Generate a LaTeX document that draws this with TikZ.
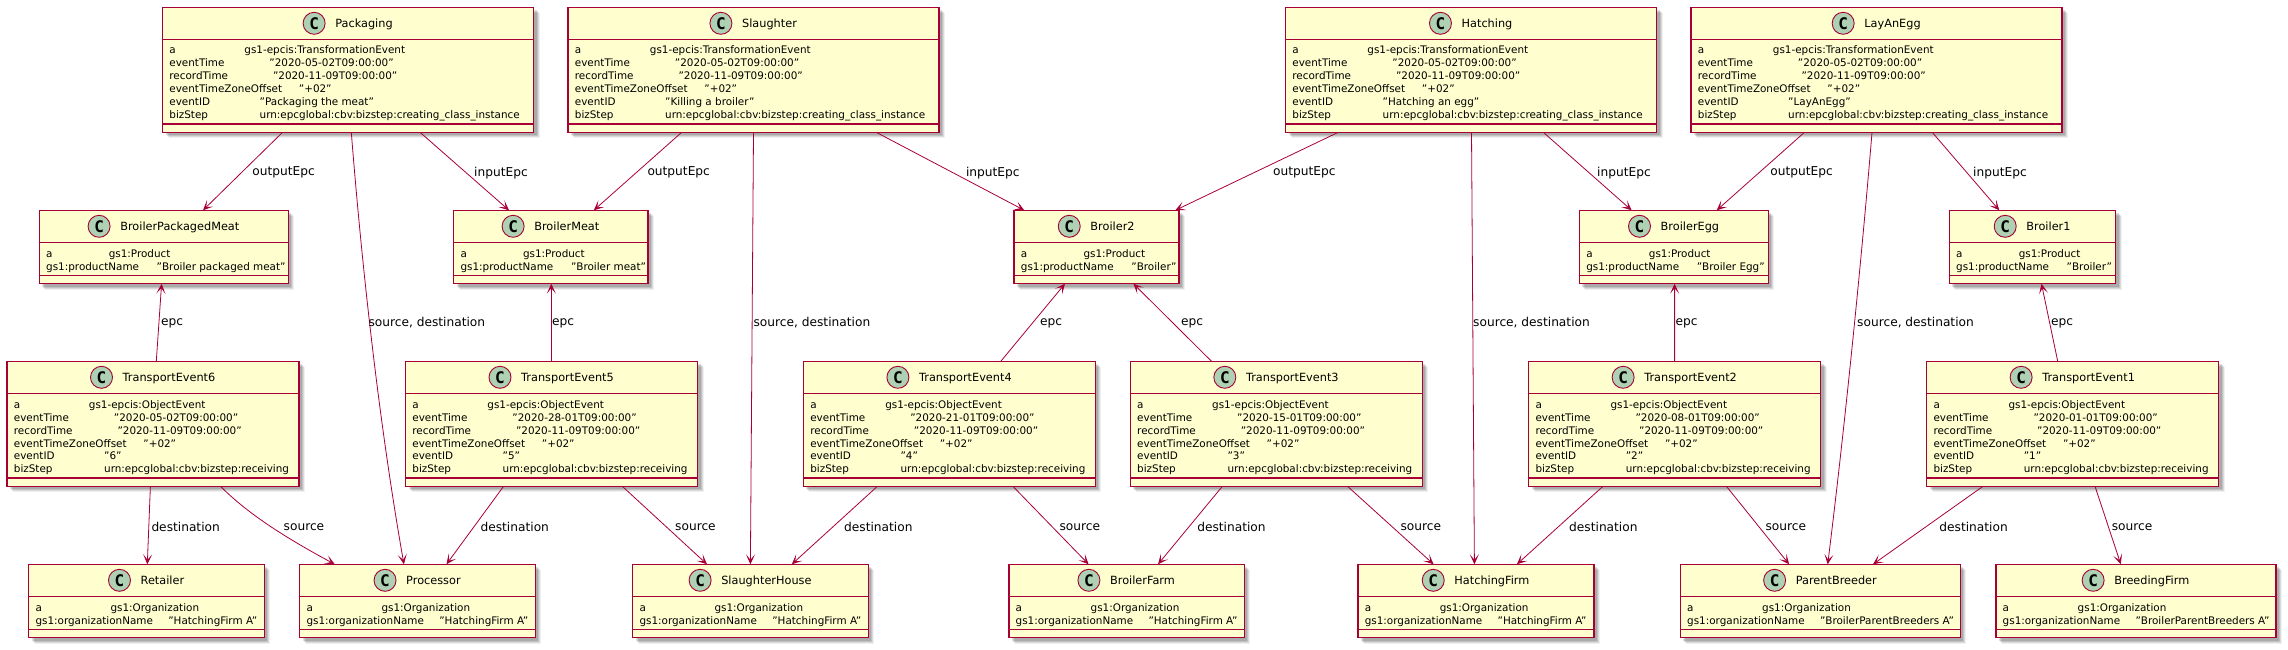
\documentclass[tikz,border=0pt]{standalone}
\usepackage{fontspec}
\setmainfont{DejaVu Sans}
\newfontfamily\markfont{DejaVu Sans Mono}
\usetikzlibrary{positioning,shadows,arrows.meta}
\definecolor{umlred}{HTML}{A80036}
\definecolor{umlyellow}{HTML}{FEFECE}
\definecolor{umlgreen}{HTML}{ADD1B2}
\tikzset{
	classbox/.style={draw=umlred, fill=umlyellow, line width=1.4pt, anchor=north west, inner sep=0pt, outer sep=0pt,
		drop shadow={shadow xshift=6pt, shadow yshift=-6pt, opacity=.06, fill=black},
		drop shadow={shadow xshift=5pt, shadow yshift=-5pt, opacity=.09, fill=black},
		drop shadow={shadow xshift=4pt, shadow yshift=-4pt, opacity=.11, fill=black},
		drop shadow={shadow xshift=3pt, shadow yshift=-3pt, opacity=.12, fill=black}},
	classline/.style={draw=umlred, line width=1.2pt},
	classtitle/.style={inner sep=0pt, text height=11pt, text depth=3pt, font=\fontsize{11.3}{13}\selectfont},
	classmark/.style={circle, draw=umlred, fill=umlgreen, line width=.9pt, inner sep=0pt, outer sep=0pt, minimum size=22pt, font=\markfont\bfseries\fontsize{16}{16}\selectfont},
	attrtext/.style={anchor=base west, inner sep=0pt, font=\fontsize{10.4}{12}\selectfont},
	rel/.style={draw=umlred, line width=.8pt, ->},
	rellabel/.style={anchor=west, inner sep=0pt, font=\fontsize{12.2}{14}\selectfont}
}
\begin{document}
\begin{tikzpicture}[x=1pt, y=-1pt, >={Stealth[length=10pt, width=9pt, inset=5.5pt]}]
	\useasboundingbox (0,0) rectangle (2288,650);
	\def\umlclass#1#2#3#4#5#6{
		\node[classbox, minimum width=#4pt, minimum height=#5pt] (#1) at (#2,#3) {};
		\draw[classline] ([yshift=-32pt]#1.north west) -- ([yshift=-32pt]#1.north east);
		\draw[classline] ([yshift=8.3pt]#1.south west) -- ([yshift=8.3pt]#1.south east);
		\node[classtitle] (#1-title) at ([xshift=16pt, yshift=-16pt]#1.north) {#6};
		\node[classmark, left=10pt of #1-title] (#1-mark) {C};
	}
	\def\attr#1#2#3#4#5{
		\node[attrtext] (#1-key#2) at ([xshift=6.7pt, yshift=-#2pt]#1.north west) {#3};
		\node[attrtext] (#1-val#2) at ([xshift=6.7pt+#4pt, yshift=-#2pt]#1.north west) {#5};
	}
	\def\eventrows#1#2#3#4#5{
		\attr{#1}{46.7}{a}{75}{#2}
		\attr{#1}{59.7}{eventTime}{100}{"#3"}
		\attr{#1}{72.7}{recordTime}{103.6}{"2020-11-09T09:00:00"}
		\attr{#1}{85.7}{eventTimeZoneOffset}{129.5}{"+02"}
		\attr{#1}{98}{eventID}{90.3}{"#4"}
		\attr{#1}{111}{bizStep}{90.3}{#5}
	}
	% transformation events
	\foreach \cname/\xl/\ttl/\evid in {Packaging/162.5/Packaging/Packaging the meat, Slaughter/568/Slaughter/Killing a broiler, Hatching/1285.5/Hatching/Hatching an egg, LayAnEgg/1691/LayAnEgg/LayAnEgg}{
		\umlclass{\cname}{\xl}{7.3}{371}{125}{\ttl}
		\eventrows{\cname}{gs1-epcis:TransformationEvent}{2020-05-02T09:00:00}{\evid}{urn:epcglobal:cbv:bizstep:creating\_class\_instance}
	}
	% products
	\foreach \cname/\xl/\boxw/\prod in {BroilerPackagedMeat/39.3/249/Broiler packaged meat, BroilerMeat/453.6/194.4/Broiler meat, Broiler2/1014/165/Broiler, BroilerEgg/1579.4/189/Broiler Egg, Broiler1/1949.3/166.3/Broiler}{
		\umlclass{\cname}{\xl}{210.3}{\boxw}{73.4}{\cname}
		\attr{\cname}{47}{a}{62.6}{gs1:Product}
		\attr{\cname}{60}{gs1:productName}{110.5}{"\prod"}
	}
	% transport events
	\foreach \cname/\xl/\evt/\evid in {TransportEvent6/7/2020-05-02T09:00:00/6, TransportEvent5/405.5/2020-28-01T09:00:00/5, TransportEvent4/803.4/2020-21-01T09:00:00/4, TransportEvent3/1130.3/2020-15-01T09:00:00/3, TransportEvent2/1528.6/2020-08-01T09:00:00/2, TransportEvent1/1926.6/2020-01-01T09:00:00/1}{
		\umlclass{\cname}{\xl}{361.3}{292}{125}{\cname}
		\eventrows{\cname}{gs1-epcis:ObjectEvent}{\evt}{\evid}{urn:epcglobal:cbv:bizstep:receiving}
	}
	% organizations
	\foreach \cname/\xl/\boxw/\org in {Retailer/28.6/235.7/HatchingFirm A, Processor/299.6/235.7/HatchingFirm A, SlaughterHouse/632.6/235.6/HatchingFirm A, BroilerFarm/1008.8/235.4/HatchingFirm A, HatchingFirm/1357.9/236/HatchingFirm A, ParentBreeder/1680.3/280/BroilerParentBreeders A, BreedingFirm/1995.8/280/BroilerParentBreeders A}{
		\umlclass{\cname}{\xl}{564.3}{\boxw}{73.4}{\cname}
		\attr{\cname}{47}{a}{75}{gs1:Organization}
		\attr{\cname}{60}{gs1:organizationName}{132.8}{"\org"}
	}
	% downward relations
	\foreach \from/\sa/\to/\sb/\lx/\ly/\rname in {
		Packaging/-65.4/BroilerPackagedMeat/39.2/252.2/172.7/outputEpc,
		Packaging/72/BroilerMeat/-41.8/474/172.7/inputEpc,
		Slaughter/-71.8/BroilerMeat/43/647.3/172.7/outputEpc,
		Slaughter/122.7/Broiler2/-72.2/965.8/172.7/inputEpc,
		Hatching/-132.7/Broiler2/78.8/1272.9/172.7/outputEpc,
		Hatching/72.3/BroilerEgg/-42.3/1597/172.7/inputEpc,
		LayAnEgg/-72/BroilerEgg/42.8/1770.2/172.7/outputEpc,
		LayAnEgg/55.7/Broiler1/-33.2/1973/172.7/inputEpc,
		Slaughter/0/SlaughterHouse/0/753.4/323/{source, destination},
		Hatching/.5/HatchingFirm/-1.5/1473/323/{source, destination},
		TransportEvent6/-2.6/Retailer/.85/151.3/526.7/destination,
		TransportEvent5/-47.9/Processor/29/480.4/526.7/destination,
		TransportEvent5/70.8/SlaughterHouse/-43.4/675/526.7/source,
		TransportEvent4/-72/SlaughterHouse/41.4/844/526.7/destination,
		TransportEvent4/63.5/BroilerFarm/-37.9/1059.4/526.7/source,
		TransportEvent3/-53.9/BroilerFarm/31.5/1197.1/526.7/destination,
		TransportEvent3/71.2/HatchingFirm/-42.3/1400.3/526.7/source,
		TransportEvent2/-71.6/HatchingFirm/41/1569/526.7/destination,
		TransportEvent2/51.8/ParentBreeder/-31.2/1765.4/526.7/source,
		TransportEvent1/-89.6/ParentBreeder/52.7/1939.2/526.7/destination,
		TransportEvent1/22.4/BreedingFirm/-15/2111.6/526.7/source}{
		\draw[rel] ([xshift=\sa pt]\from.south) -- ([xshift=\sb pt]\to.north);
		\node[rellabel] (\from-\to-label) at (\lx,\ly) {\rname};
	}
	% epc relations go up
	\foreach \from/\sa/\to/\sb/\lx in {
		TransportEvent6/3.3/BroilerPackagedMeat/-2.2/161,
		TransportEvent5/-.2/BroilerMeat/.5/552,
		TransportEvent4/51.4/Broiler2/-31.5/1039.8,
		TransportEvent3/-64.8/Broiler2/36.9/1181,
		TransportEvent2/0/BroilerEgg/.7/1675.5,
		TransportEvent1/-14.9/Broiler1/9/2051}{
		\draw[rel] ([xshift=\sa pt]\from.north) -- ([xshift=\sb pt]\to.south);
		\node[rellabel] (\from-\to-label) at (\lx,323) {epc};
	}
	% the bent ones
	\draw[rel] ([xshift=3.3pt]Packaging.south) .. controls (359,230) and (375,400) .. ([xshift=-13.5pt]Processor.north);
	\node[rellabel] (Packaging-Processor-label) at (368.3,323) {source, destination};
	\draw[rel] ([xshift=-4.5pt]LayAnEgg.south) .. controls (1864,230) and (1848,400) .. ([xshift=7.4pt]ParentBreeder.north);
	\node[rellabel] (LayAnEgg-ParentBreeder-label) at (1857,323) {source, destination};
	\draw[rel] ([xshift=67.5pt]TransportEvent6.south) .. controls (250,516) and (290,540) .. ([xshift=-82.65pt]Processor.north);
	\node[rellabel] (TransportEvent6-Processor-label) at (283.5,526.7) {source};
\end{tikzpicture}
\end{document}
